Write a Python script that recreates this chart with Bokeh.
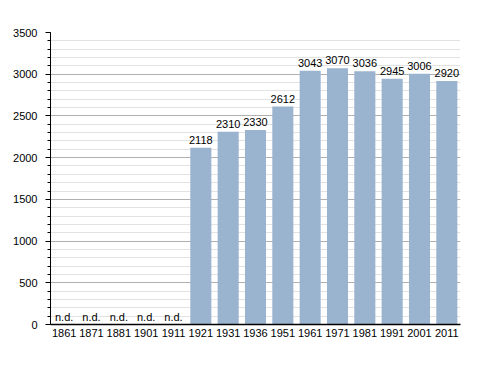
from bokeh.plotting import figure
from bokeh.models import ColumnDataSource, FactorRange, Range1d, LabelSet, SingleIntervalTicker
from bokeh.core.properties import value
from bokeh.embed import file_html
from bokeh.resources import INLINE

years = ["1861", "1871", "1881", "1901", "1911", "1921", "1931", "1936",
         "1951", "1961", "1971", "1981", "1991", "2001", "2011"]
population = [None, None, None, None, None, 2118, 2310, 2330,
              2612, 3043, 3070, 3036, 2945, 3006, 2920]

FONT = "Liberation Sans"

bar_years = [y for y, v in zip(years, population) if v is not None]
bar_vals = [v for v in population if v is not None]
nd_years = [y for y, v in zip(years, population) if v is None]

src = ColumnDataSource(dict(x=bar_years, top=bar_vals, label=[str(v) for v in bar_vals]))
nd_src = ColumnDataSource(dict(x=nd_years, y=[0] * len(nd_years), label=["n.d."] * len(nd_years)))

p = figure(width=480, height=365, x_range=FactorRange(*years, range_padding=0),
           y_range=Range1d(0, 3500), output_backend="svg", toolbar_location=None,
           min_border_left=50, min_border_right=20, min_border_top=32, min_border_bottom=41)
p.outline_line_color = None
p.background_fill_color = "white"

p.vbar(x="x", top="top", width=0.77, source=src, fill_color="#9ab3cf", line_color=None)

p.add_layout(LabelSet(x="x", y="top", text="label", source=src, text_align="center",
                      text_baseline="bottom", y_offset=4, text_font=value(FONT),
                      text_font_size="11px", text_color="#000000"))
p.add_layout(LabelSet(x="x", y="y", text="label", source=nd_src, text_align="center",
                      text_baseline="bottom", y_offset=2, text_font=value(FONT),
                      text_font_size="11px", text_color="#000000"))

p.yaxis.ticker = SingleIntervalTicker(interval=500, num_minor_ticks=5)
p.yaxis.axis_line_color = "black"
p.yaxis.major_tick_line_color = "black"
p.yaxis.major_tick_out = 5
p.yaxis.major_tick_in = 0
p.yaxis.minor_tick_line_color = "black"
p.yaxis.minor_tick_out = 3
p.yaxis.minor_tick_in = 0
p.yaxis.major_label_standoff = 8
p.yaxis.major_label_text_font = FONT
p.yaxis.major_label_text_font_size = "11px"
p.yaxis.major_label_text_color = "#000000"

p.xaxis.axis_line_color = "black"
p.xaxis.axis_line_width = 1.5
p.xaxis.major_tick_line_color = None
p.xaxis.minor_tick_line_color = None
p.xaxis.major_label_text_font = FONT
p.xaxis.major_label_text_font_size = "11px"
p.xaxis.major_label_text_color = "#000000"
p.xaxis.major_label_standoff = -2

p.xgrid.grid_line_color = None
p.ygrid.grid_line_color = "#b0b0b0"
p.ygrid.minor_grid_line_color = "#e2e2e2"

open("out.html", "w").write(file_html(p, INLINE))
